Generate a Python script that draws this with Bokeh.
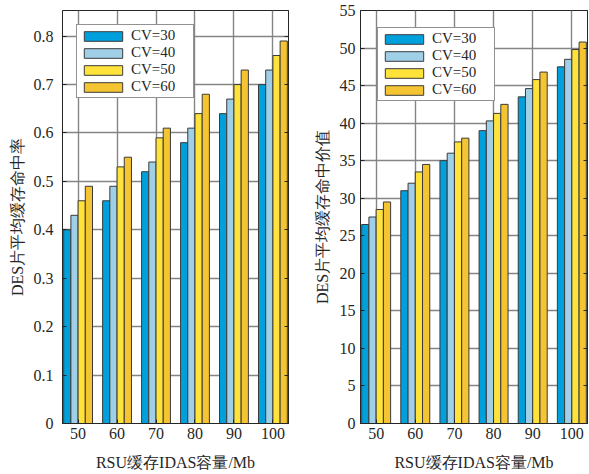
from bokeh.plotting import figure
from bokeh.layouts import row
from bokeh.models import Range1d, FixedTicker, LinearAxis, Legend, LegendItem, ColumnDataSource
from bokeh.transform import dodge
from bokeh.embed import file_html
from bokeh.resources import INLINE

capacity = [50, 60, 70, 80, 90, 100]
series = ["CV=30", "CV=40", "CV=50", "CV=60"]
hit_cv30 = [0.40, 0.46, 0.52, 0.58, 0.64, 0.70]
hit_cv40 = [0.43, 0.49, 0.54, 0.61, 0.67, 0.73]
hit_cv50 = [0.46, 0.53, 0.59, 0.64, 0.70, 0.76]
hit_cv60 = [0.49, 0.55, 0.61, 0.68, 0.73, 0.79]
val_cv30 = [26.5, 31.0, 35.0, 39.0, 43.5, 47.5]
val_cv40 = [27.5, 32.0, 36.0, 40.3, 44.6, 48.5]
val_cv50 = [28.5, 33.5, 37.5, 41.3, 45.8, 49.8]
val_cv60 = [29.5, 34.5, 38.0, 42.5, 46.8, 50.8]
hit_ticks = [0, 0.1, 0.2, 0.3, 0.4, 0.5, 0.6, 0.7, 0.8]
val_ticks = [0, 5, 10, 15, 20, 25, 30, 35, 40, 45, 50, 55]

colors = ["#00A0DC", "#A0CFE8", "#FFE33B", "#F5C432"]
FONT = "Liberation Serif"
TXT = "#262626"


def make(ys, ylabel, y_end, yticks, width, bl, br, legend_margin, tick_so, label_so):
    p = figure(width=width, height=473, output_backend="svg", toolbar_location=None,
               x_range=Range1d(46, 104), y_range=Range1d(0, y_end),
               min_border_left=bl, min_border_right=br, min_border_top=10, min_border_bottom=50)
    src = ColumnDataSource(dict(x=capacity, a=ys[0], b=ys[1], c=ys[2], d=ys[3]))
    bw = 1.85
    offs = [-1.5 * bw, -0.5 * bw, 0.5 * bw, 1.5 * bw]
    rs = []
    for key, off, col in zip(["a", "b", "c", "d"], offs, colors):
        r = p.vbar(x=dodge("x", off, range=p.x_range), top=key, width=bw, bottom=0,
                   source=src, fill_color=col, line_color="#3a3a3a", line_width=1)
        rs.append(r)
    p.xaxis.ticker = FixedTicker(ticks=capacity)
    p.yaxis.ticker = FixedTicker(ticks=yticks)
    for ax in p.xaxis + p.yaxis:
        ax.major_tick_in = 4
        ax.major_tick_out = 0
        ax.minor_tick_in = 0
        ax.minor_tick_out = 0
        ax.axis_line_color = TXT
        ax.major_tick_line_color = TXT
        ax.major_label_text_font = FONT
        ax.major_label_text_font_size = "16px"
        ax.major_label_text_color = TXT
        ax.axis_label_text_font = FONT
        ax.axis_label_text_font_size = "16px"
        ax.axis_label_text_font_style = "normal"
        ax.axis_label_text_color = TXT
    p.xaxis.major_label_standoff = 4
    p.xaxis.axis_label_standoff = 12
    p.yaxis.major_label_standoff = tick_so
    p.yaxis.axis_label_standoff = label_so
    p.xaxis.axis_label = "RSU缓存IDAS容量/Mb"
    p.yaxis.axis_label = ylabel
    # right ticks (box on)
    ra = LinearAxis(ticker=FixedTicker(ticks=yticks), major_tick_in=4, major_tick_out=0,
                    minor_tick_in=0, minor_tick_out=0,
                    major_label_overrides={t: "" for t in yticks},
                    major_label_standoff=0, axis_line_color=TXT, major_tick_line_color=TXT)
    p.add_layout(ra, "right")
    p.xgrid.grid_line_color = "#858585"
    p.ygrid.grid_line_color = "#858585"
    p.xgrid.grid_line_width = 1.4
    p.ygrid.grid_line_width = 1.4
    p.outline_line_color = TXT
    p.outline_line_alpha = 1
    p.background_fill_color = "white"
    p.border_fill_color = "white"
    leg = Legend(items=[LegendItem(label=s, renderers=[r]) for s, r in zip(series, rs)],
                 location="top_left", margin=legend_margin, padding=2, spacing=0,
                 glyph_width=48, glyph_height=12, label_height=12, label_width=60,
                 label_standoff=4, label_text_font=FONT, label_text_font_size="15px",
                 label_text_color=TXT, border_line_color=TXT, border_line_width=1,
                 background_fill_alpha=1)
    p.add_layout(leg, "center")
    return p


p1 = make([hit_cv30, hit_cv40, hit_cv50, hit_cv60], "DES片平均缓存命中率", 0.853, hit_ticks,
          300, 62, 12, 14, 9, 5)
p2 = make([val_cv30, val_cv40, val_cv50, val_cv60], "DES片平均缓存命中价值", 55, val_ticks,
          288, 60, 1, 17, 5, 6)

layout = row(p1, p2)
open("out.html", "w").write(file_html(layout, INLINE))
